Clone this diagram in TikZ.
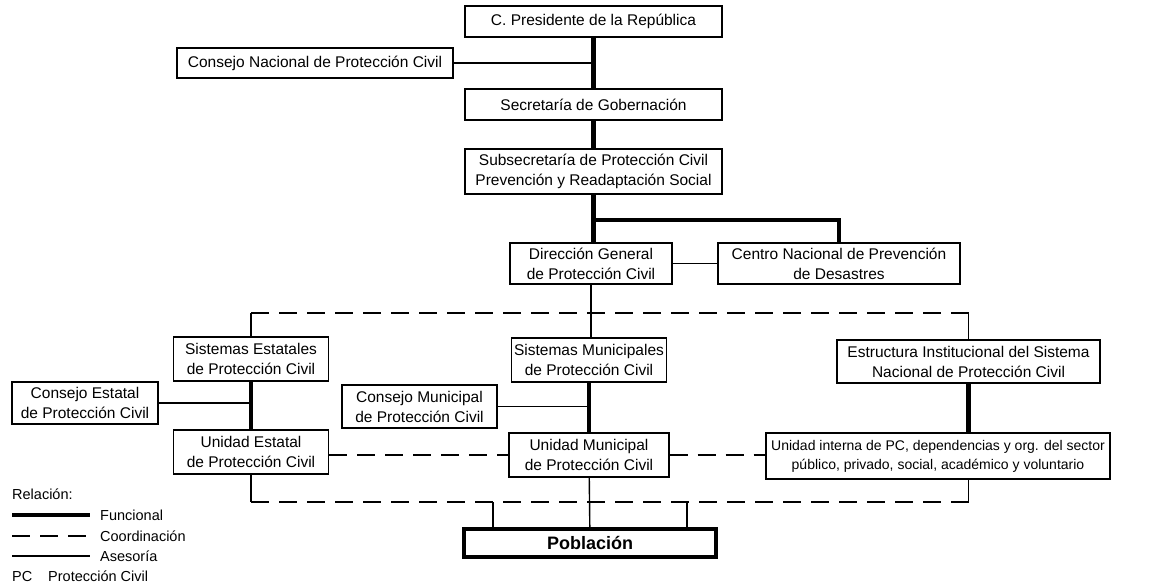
\documentclass[tikz,border=0pt]{standalone}
\usepackage{fontspec}
\setmainfont{Liberation Sans}
\begin{document}
\begin{tikzpicture}[x=1pt,y=-1pt,
  box/.style={draw, line width=1.3pt, align=center, inner sep=0pt, font=\fontsize{15.5}{20}\selectfont},
  func/.style={line width=4.5pt},
  ases/.style={line width=1.4pt},
  coordl/.style={line width=1.9pt, dash pattern=on 18pt off 10pt},
  coordsolid/.style={line width=1.9pt},
  legend/.style={anchor=base west, inner sep=0pt, font=\fontsize{14.5}{16}\selectfont}]
\fill[white] (0,0) rectangle (1165,583);
\useasboundingbox (0,0) rectangle (1165,583);
% nodes
\node[box, minimum width=257pt, minimum height=31pt] (pres) at (593.5,21.5) {C. Presidente de la República};
\node[box, minimum width=276pt, minimum height=30pt] (cnpc) at (315,63) {Consejo Nacional de Protección Civil};
\node[box, minimum width=257pt, minimum height=31pt] (segob) at (593.5,104.5) {Secretaría de Gobernación};
\node[box, minimum width=257pt, minimum height=45pt] (subsec) at (593.5,171.5) {Subsecretaría de Protección Civil\\Prevención y Readaptación Social};
\node[box, minimum width=162pt, minimum height=41pt] (dgpc) at (591,263.5) {Dirección General\\de Protección Civil};
\node[box, minimum width=242pt, minimum height=41pt] (cenapred) at (839,263.5) {Centro Nacional de Prevención\\de Desastres};
\node[box, minimum width=155pt, minimum height=44pt] (sest) at (251,359) {Sistemas Estatales\\de Protección Civil};
\node[box, minimum width=155pt, minimum height=44pt] (smun) at (589,360) {Sistemas Municipales\\de Protección Civil};
\node[box, minimum width=263pt, minimum height=43pt] (estr) at (968.5,361.5) {Estructura Institucional del Sistema\\Nacional de Protección Civil};
\node[box, minimum width=146pt, minimum height=42pt] (cest) at (85,403) {Consejo Estatal\\de Protección Civil};
\node[box, minimum width=155pt, minimum height=43pt] (cmun) at (419.5,406.5) {Consejo Municipal\\de Protección Civil};
\node[box, minimum width=155pt, minimum height=44pt] (uest) at (251,452) {Unidad Estatal\\de Protección Civil};
\node[box, minimum width=160pt, minimum height=44pt] (umun) at (589,455) {Unidad Municipal\\de Protección Civil};
\node[box, minimum width=344pt, minimum height=46pt, font=\fontsize{14}{19}\selectfont] (uint) at (938,456) {Unidad interna de PC, dependencias y org. del sector\\público, privado, social, académico y voluntario};
\node[draw, line width=3.5pt, inner sep=0pt, minimum width=252pt, minimum height=28pt, font=\fontsize{18}{20}\selectfont\bfseries] (pob) at (590,543) {Población};
% functional lines
\draw[func] (pres) -- (segob);
\draw[func] (segob) -- (subsec);
\draw[func] (subsec.south) -- (subsec.south |- dgpc.north);
\coordinate (br) at (593.5,220);
\draw[func] (br) -| (cenapred.north);
\draw[func] (sest) -- (uest);
\draw[func] (smun) -- (umun);
\draw[func] (estr.south) -- (estr.south |- uint.north);
% advisory lines
\draw[ases] (cnpc.east) -- (cnpc.east -| pres.south);
\draw[ases] (dgpc) -- (cenapred);
\draw[ases] (dgpc.south) -- (dgpc.south |- smun.north);
\draw[ases] (cest.east) -- (cest.east -| sest.south);
\draw[ases] (cmun.east) -- (cmun.east -| smun.south);
\draw[ases] (umun) -- (pob);
% coordination lines
\coordinate (tl) at (sest.north |- 0,313);
\coordinate (tr) at (estr.north |- 0,313);
\draw[coordsolid] (sest.north) -- (tl);
\draw[coordl] (tl) -- (tr);
\draw[coordsolid] (tr) -- (estr.north);
\draw[coordl] (uest.east |- umun.west) -- (umun.west);
\draw[coordl] (umun.east) -- (umun.east -| uint.west);
\coordinate (bl) at (uest.south |- 0,502);
\coordinate (bru) at (estr.south |- 0,502);
\draw[coordsolid] (uest.south) -- (bl);
\draw[coordl] (bl) -- (bru);
\draw[coordsolid] (bru) -- (bru |- uint.south);
\coordinate (pl) at (493,502);
\coordinate (pr) at (687,502);
\draw[ases] (pl) -- (pl |- pob.north);
\draw[ases] (pr) -- (pr |- pob.north);
% legend
\node[legend] (lrel) at (12,499) {Relación:};
\coordinate (lf1) at (12,515); \coordinate (lf2) at (90,515);
\coordinate (lc1) at (12,536); \coordinate (lc2) at (90,536);
\coordinate (la1) at (12,556); \coordinate (la2) at (90,556);
\draw[func] (lf1) -- (lf2);
\draw[coordl] (lc1) -- (lc2);
\draw[ases] (la1) -- (la2);
\node[legend] (lfun) at (100,520) {Funcional};
\node[legend] (lcoo) at (100,541) {Coordinación};
\node[legend] (lase) at (100,561) {Asesoría};
\node[legend] (lpc) at (12,581) {PC};
\node[legend] (lpcd) at (48,581) {Protección Civil};
\end{tikzpicture}
\end{document}
